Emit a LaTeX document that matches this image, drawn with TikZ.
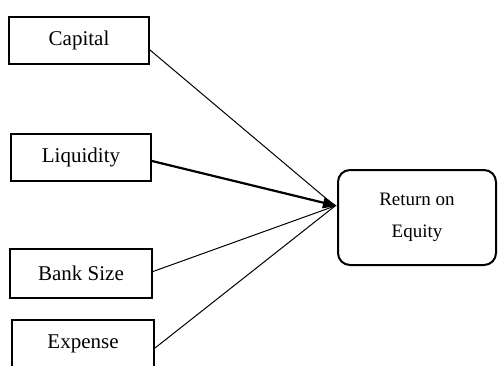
\documentclass[tikz,border=0pt]{standalone}
\usepackage{fontspec}
\setmainfont{Liberation Serif}
\usetikzlibrary{arrows.meta}
\begin{document}
\begin{tikzpicture}[x=0.5pt,y=-0.5pt,
  factor/.style={draw,line width=1pt,minimum width=70pt,minimum height=23.5pt,inner sep=0pt,font=\fontsize{10.5pt}{12pt}\selectfont},
  outcome/.style={draw,line width=1pt,rounded corners=6pt,minimum width=79pt,minimum height=47.5pt,inner sep=0pt,align=center,font=\fontsize{9.5pt}{16pt}\selectfont},
  thin/.style={line width=0.5pt},
  thick/.style={line width=1.1pt}]
\useasboundingbox (0,0) rectangle (498,365);
\node[factor] (cap) at (79,40.5) {Capital};
\node[factor] (liq) at (81,157.5) {Liquidity};
\node[factor,minimum width=71pt,minimum height=24.5pt] (bank) at (81,273.5) {Bank Size};
\node[factor,minimum width=71pt] (exp) at (83,343.5) {Expense};
\node[outcome] (roe) at (417,217.5) {Return on\\Equity};
\coordinate (t) at (335,206);
\draw[thin] ([yshift=-4.75pt]cap.east) -- (t);
\draw[thin] ([yshift=1pt]bank.east) -- (t);
\draw[thin] ([yshift=-2.25pt]exp.east) -- (t);
\draw[thick,-{Triangle[length=7pt,width=5.5pt]}] ([yshift=-1.75pt]liq.east) -- (roe.west |- t);
\end{tikzpicture}
\end{document}
